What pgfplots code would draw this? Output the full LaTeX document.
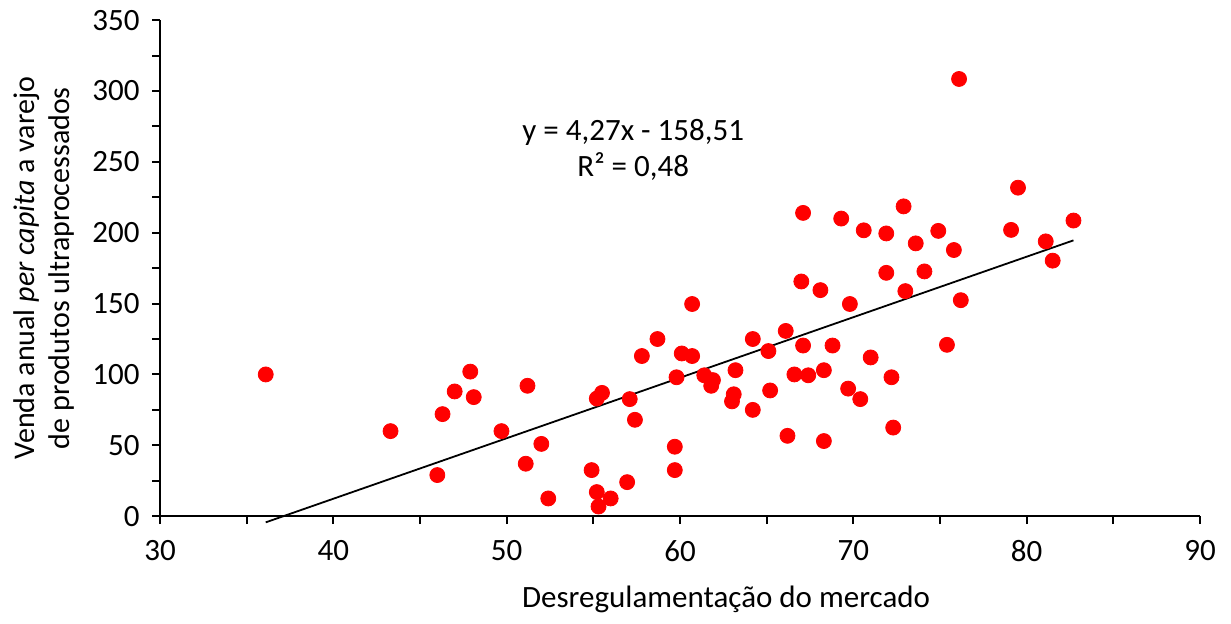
\documentclass[border=0pt]{standalone}
\usepackage{fontspec}
\setmainfont{Carlito}
\usepackage{pgfplots}
\pgfplotsset{compat=1.18}
\begin{document}
\fontsize{15}{17.5}\selectfont
\begin{tikzpicture}
\begin{axis}[
  scale only axis,
  width=520pt, height=248pt,
  xmin=30, xmax=90, ymin=0, ymax=350,
  axis x line=bottom, axis y line=left,
  axis line style={-, line width=1pt},
  xtick={30,40,...,90}, ytick={0,50,...,350},
  minor xtick={35,45,...,85}, minor ytick={25,75,...,325},
  tick align=outside,
  major tick length=4pt, minor tick length=4pt,
  tick style={line width=1pt, black},
  /pgf/number format/assume math mode=true,
  ticklabel style={font=\fontsize{15.5}{17.5}\selectfont},
  xticklabel style={yshift=-3pt},
  yticklabel style={xshift=-1pt},
  xlabel={Desregulamentação do mercado},
  ylabel={Venda anual \textit{per capita} a varejo\\de produtos ultraprocessados},
  ylabel style={align=center, font=\fontsize{15}{17.5}\selectfont, yshift=-1pt},
  xlabel style={font=\fontsize{15.5}{17.5}\selectfont, yshift=-2pt, xshift=23pt},
  clip=false,
]
\addplot[only marks, mark=*, mark size=3.75pt, color=red, fill=red] coordinates {
(36.1,100) (43.3,60) (46.0,29) (46.3,72) (47.0,88) (47.9,102) (48.1,84)
(49.7,60) (51.1,37) (51.2,92) (52.0,51) (52.4,12.5) (54.9,32.5) (55.2,83)
(55.2,17) (55.3,6.8) (55.5,87) (56.0,12.5) (56.95,24) (57.1,82.6) (57.4,68)
(57.8,113) (58.7,125) (59.7,49) (59.7,32.5) (59.8,98) (60.1,114.8) (60.7,149.7)
(60.7,113) (61.4,99.4) (61.8,92) (61.9,96) (63.0,81) (63.1,86) (63.2,103)
(64.2,125) (64.2,75) (65.1,116.5) (65.2,88.7) (66.1,130.7) (66.2,56.7) (66.6,100)
(67.0,165.6) (67.1,120.4) (67.1,214) (67.4,99.4) (68.1,159.5) (68.3,103) (68.3,53)
(68.8,120.4) (69.3,210) (69.7,90) (69.8,149.7) (70.4,82.6) (70.6,201.7) (71.0,112)
(71.9,199.5) (71.9,171.7) (72.2,98) (72.3,62.5) (72.9,218.6) (73.0,158.8) (73.6,192.5)
(74.1,172.7) (74.9,201.3) (75.4,120.9) (75.8,187.8) (76.1,308.5) (76.2,152.4)
(79.1,202) (79.5,231.8) (81.1,193.9) (81.5,180.3) (82.7,208.6)
};
\addplot[black, line width=0.9pt] coordinates {(36.1,-4.36) (82.7,194.62)};
\node[align=center, font=\fontsize{15.5}{18}\selectfont] at (axis cs:57.3,258.5) {y = 4,27x - 158,51\\R² = 0,48};
\end{axis}
\path (current axis.south west) +(-80pt,-50pt) (current axis.north east) +(15.5pt,9pt);
\end{tikzpicture}
\end{document}
